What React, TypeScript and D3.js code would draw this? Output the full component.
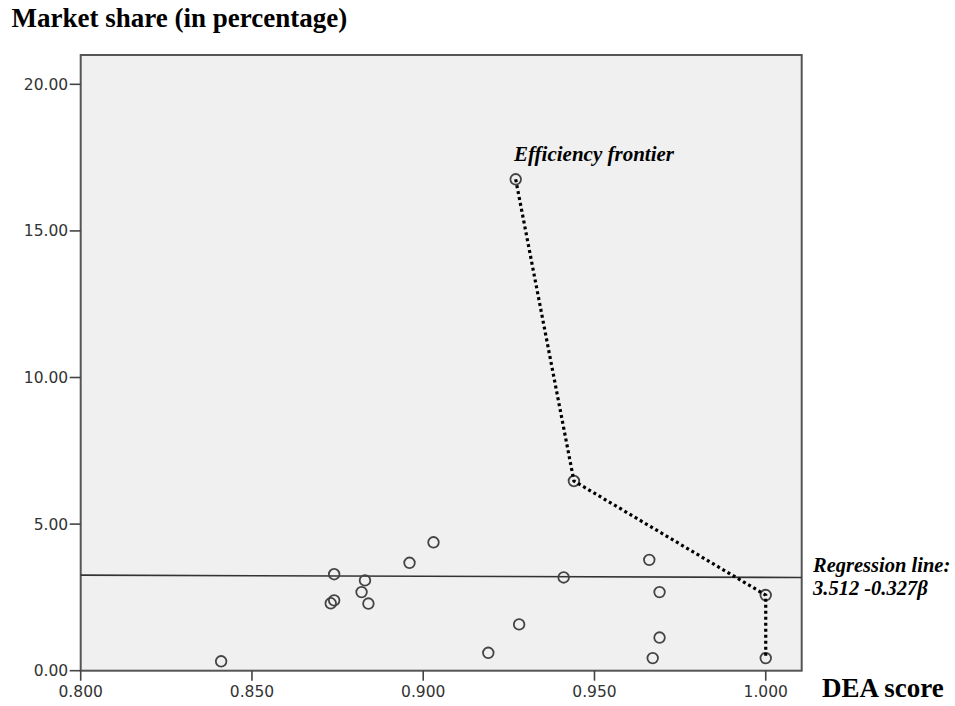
import React from "react";
import * as d3 from "d3";

const deaScore = [0.841, 0.874, 0.874, 0.873, 0.883, 0.882, 0.884, 0.896, 0.903, 0.919, 0.928, 0.927, 0.941, 0.944, 0.966, 0.969, 0.969, 0.967, 1.0, 1.0];
const marketShare = [0.32, 3.29, 2.4, 2.3, 3.08, 2.68, 2.29, 3.68, 4.38, 0.61, 1.58, 16.76, 3.18, 6.47, 3.78, 2.68, 1.13, 0.43, 2.58, 0.43];

const frontierX = [0.927, 0.944, 1.0, 1.0];
const frontierY = [16.76, 6.47, 2.58, 0.43];

const regressionX = [0.8, 1.0105];
const regressionY = [3.26, 3.18];

const xTicks = [0.8, 0.85, 0.9, 0.95, 1.0];
const yTicks = [0, 5, 10, 15, 20];

const W = 955;
const H = 706;
const L = 80.7, R = 801.7, T = 55, B = 670.7;

export default function App() {
  const x = d3.scaleLinear().domain([0.8, 1.0105]).range([L, R]);
  const y = d3.scaleLinear().domain([0, 21]).range([B, T]);
  const line = d3.line<[number, number]>().x((d) => x(d[0])).y((d) => y(d[1]));
  const frontier = frontierX.map((v, i) => [v, frontierY[i]] as [number, number]);
  const reg = regressionX.map((v, i) => [v, regressionY[i]] as [number, number]);
  const tickFont = "'DejaVu Sans', sans-serif";
  const serif = "'Liberation Serif', 'Times New Roman', serif";
  return (
    <svg width={W} height={H} style={{ position: "absolute", left: 0, top: 0, background: "#fff" }}>
      <text x={11.5} y={27} fontFamily={serif} fontWeight="bold" fontSize={27} fill="#000">
        Market share (in percentage)
      </text>
      <rect x={L} y={T} width={R - L} height={B - T} fill="#f0f0f0" stroke="#555" strokeWidth={2} />
      {yTicks.map((t) => (
        <g key={"y" + t}>
          <line x1={L - 11} x2={L} y1={y(t)} y2={y(t)} stroke="#444" strokeWidth={1.6} />
          <text x={L - 12.5} y={y(t) + 5.5} textAnchor="end" fontFamily={tickFont} fontSize={15.5} fill="#333">
            {d3.format(".2f")(t)}
          </text>
        </g>
      ))}
      {xTicks.map((t) => (
        <g key={"x" + t}>
          <line x1={x(t)} x2={x(t)} y1={B} y2={B + 10} stroke="#444" strokeWidth={1.6} />
          <text x={x(t)} y={B + 26} textAnchor="middle" fontFamily={tickFont} fontSize={15.5} fill="#333">
            {d3.format(".3f")(t)}
          </text>
        </g>
      ))}
      <path d={line(reg) || ""} fill="none" stroke="#333" strokeWidth={1.6} />
      {deaScore.map((v, i) => (
        <circle key={i} cx={x(v)} cy={y(marketShare[i])} r={5.3} fill="none" stroke="#444" strokeWidth={1.8} />
      ))}
      <path d={line(frontier) || ""} fill="none" stroke="#000" strokeWidth={3.2} strokeDasharray="3 3" />
      <text x={514} y={160.7} fontFamily={serif} fontWeight="bold" fontStyle="italic" fontSize={21} fill="#000">
        Efficiency frontier
      </text>
      <text x={813} y={572} fontFamily={serif} fontWeight="bold" fontStyle="italic" fontSize={20.5} fill="#000">
        Regression line:
      </text>
      <text x={813} y={595} fontFamily={serif} fontWeight="bold" fontStyle="italic" fontSize={20.5} fill="#000">
        3.512 -0.327β
      </text>
      <text x={822} y={697} fontFamily={serif} fontWeight="bold" fontSize={27} fill="#000">
        DEA score
      </text>
    </svg>
  );
}
